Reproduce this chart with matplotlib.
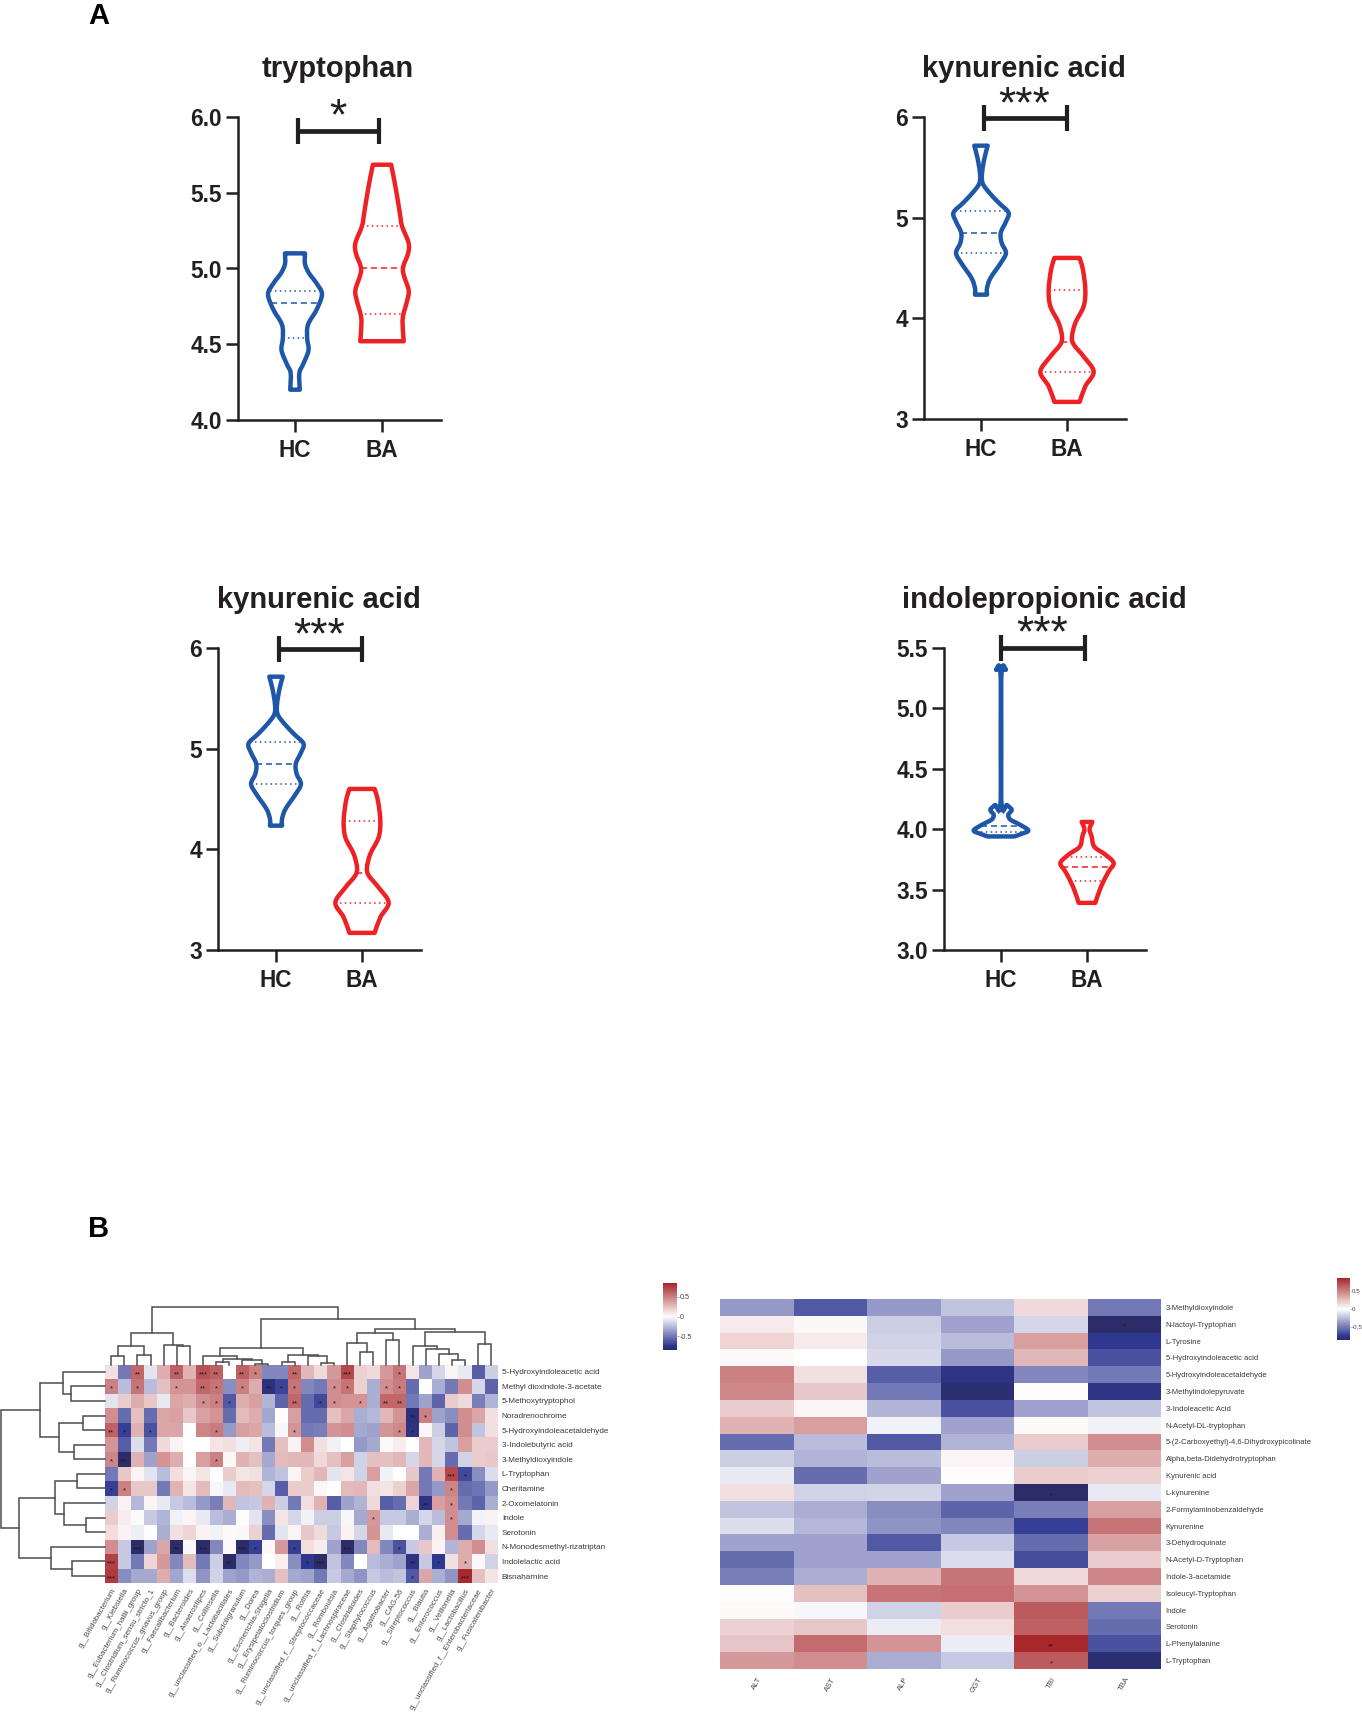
import numpy as np
import matplotlib
matplotlib.use("Agg")
import matplotlib.pyplot as plt
from matplotlib.colors import LinearSegmentedColormap
from matplotlib.patches import PathPatch
from matplotlib.path import Path

plt.rcParams['font.family'] = ['Liberation Sans', 'DejaVu Sans']

W, H = 1362, 1712
INK = '#231f20'
BLUE = '#1f57a8'
RED = '#ee2224'

# ---- violins: y value, half width (in category units), quartiles
try_hc_y = [5.10, 5.03, 4.97, 4.90, 4.83, 4.73, 4.63, 4.54, 4.46, 4.37, 4.31, 4.20]
try_hc_w = [.115, .115, .16, .25, .31, .25, .15, .14, .155, .095, .05, .055]
try_hc_q = [4.85, 4.77, 4.54]
try_ba_y = [5.685, 5.54, 5.365, 5.28, 5.17, 5.10, 4.99, 4.86, 4.79, 4.68, 4.595, 4.52]
try_ba_w = [.105, .155, .205, .23, .305, .30, .24, .305, .29, .24, .24, .25]
try_ba_q = [5.28, 5.00, 4.70]

kyn_hc_y = [5.715, 5.59, 5.44, 5.34, 5.245, 5.145, 5.05, 4.96, 4.85, 4.75, 4.65, 4.55, 4.40, 4.30, 4.235]
kyn_hc_w = [.078, .04, .012, .02, .10, .21, .32, .29, .23, .24, .29, .23, .11, .07, .07]
kyn_hc_q = [5.07, 4.85, 4.65]
kyn_ba_y = [4.60, 4.48, 4.285, 4.12, 3.955, 3.82, 3.74, 3.62, 3.47, 3.325, 3.17]
kyn_ba_w = [.147, .186, .213, .194, .097, .058, .078, .194, .31, .213, .147]
kyn_ba_q = [4.28, 3.76, 3.47]

ipa_hc_y = [5.32, 5.26, 4.24, 4.20, 4.16, 4.12, 4.08, 4.04, 3.99, 3.96, 3.94]
ipa_hc_w = [.058, .004, .004, .07, .124, .085, .108, .213, .318, .233, .155]
ipa_hc_q = [4.13, 4.03, 3.98]
ipa_ba_y = [4.06, 4.0, 3.94, 3.855, 3.79, 3.72, 3.65, 3.525, 3.39]
ipa_ba_w = [.062, .03, .054, .085, .213, .31, .252, .163, .097]
ipa_ba_q = [3.77, 3.69, 3.57]

groups = ['HC', 'BA']

# ---- heatmap 1: metabolites vs genera
genera = ['g__Bifidobacterium', 'g__Klebsiella', 'g__Eubacterium_hallii_group',
          'g__Clostridium_sensu_stricto_1', 'g__Ruminococcus_gnavus_group',
          'g__Faecalibacterium', 'g__Bacteroides', 'g__Anaerostipes', 'g__Collinsella',
          'g__unclassified_o__Lactobacillales', 'g__Subdoligranulum', 'g__Dorea',
          'g__Escherichia-Shigella', 'g__Erysipelatoclostridium',
          'g__Ruminococcus_torques_group', 'g__Rothia',
          'g__unclassified_f__Streptococcaceae', 'g__Romboutsia',
          'g__unclassified_f__Lachnospiraceae', 'g__Clostridioides', 'g__Staphylococcus',
          'g__Agathobacter', 'g__CAG-56', 'g__Streptococcus', 'g__Blautia',
          'g__Enterococcus', 'g__Veillonella', 'g__Lactobacillus',
          'g__unclassified_f__Enterobacteriaceae', 'g__Fusicatenibacter']
metabolites = ['5-Hydroxyindoleacetic acid', 'Methyl dioxindole-3-acetate', '5-Methoxytryptophol',
               'Noradrenochrome', '5-Hydroxyindoleacetaldehyde', '3-Indolebutyric acid',
               '3-Methyldioxyindole', 'L-Tryptophan', 'Cheritamine', '2-Oxomelatonin', 'Indole',
               'Serotonin', 'N-Monodesmethyl-rizatriptan', 'Indolelactic acid', 'Bisnaharnine']
corr_genus = [
    [.12, -.5, .6, -.1, .32, .62, .3, .68, .62, 0, .62, .5, -.45, -.45, .6, .28, .15, .4, .72, .18, .15, .4, .55, .1, -.35, -.15, .04, -.08, -.6, -.18],
    [.5, -.25, .55, -.25, .25, .42, .42, .6, .55, -.42, .5, .33, -.8, -.7, .55, -.45, -.5, .45, .55, .18, -.3, .45, .52, -.55, 0, -.3, -.5, .45, -.15, -.58],
    [-.1, .2, .33, .22, -.08, .35, .32, .45, .5, -.62, .32, .38, -.28, -.58, .6, -.55, -.68, .45, .42, .42, -.3, .6, .6, -.5, -.35, -.58, .2, .15, -.48, -.28],
    [.45, -.55, .25, -.55, .35, .37, .22, .37, .42, -.55, .27, .33, -.33, 0, .38, -.55, -.55, .25, .35, -.3, -.27, .28, .42, -.8, .5, -.35, -.42, .45, .35, .12],
    [.62, -.72, .3, -.65, .35, .35, 0, .48, .52, -.38, .38, .35, -.25, -.03, .42, -.5, -.48, .42, .45, -.32, -.35, .42, .47, -.78, .03, -.18, -.58, .45, -.22, .12],
    [.42, -.6, -.12, -.5, .15, .05, 0, 0, .1, .12, -.06, .1, -.5, .25, .05, .45, .12, -.05, 0, -.38, -.32, .02, .07, 0, .28, -.15, -.22, .38, .2, .2],
    [.48, -.85, .3, -.35, .42, .32, 0, .38, .5, .03, .3, .25, -.32, .27, .28, .28, .15, .25, .38, -.17, .25, .25, .28, -.15, .28, -.15, -.55, -.17, .2, .22],
    [-.5, .22, .04, -.1, -.25, .13, .04, .1, 0, .2, .1, .12, -.28, -.22, .04, .2, .28, -.1, .1, -.17, .38, -.05, 0, .22, -.5, .3, .72, -.68, -.42, -.13],
    [-.72, .5, .22, .22, -.5, .3, .1, .27, -.03, -.08, .27, .25, -.15, -.6, .2, .2, .03, 0, .27, .28, .13, .1, .18, .35, -.5, -.38, .48, -.55, -.52, -.38],
    [-.17, .05, -.27, .04, -.08, -.2, -.25, -.38, -.48, .28, -.22, -.2, .3, -.18, -.5, .13, .3, -.6, -.35, -.28, .15, -.6, -.55, .17, -.78, .38, .45, -.5, -.58, -.3],
    [.2, .07, .02, -.2, -.28, -.05, .04, -.08, -.25, -.3, .01, -.1, -.42, .1, -.15, -.05, -.18, -.18, -.03, -.32, .4, -.2, -.2, -.3, -.15, -.25, .45, -.32, -.04, .05],
    [.13, .05, -.06, 0, -.3, .12, .17, .05, -.05, .02, .03, .18, -.55, -.1, .04, .22, .14, -.2, .05, -.15, .42, -.08, 0, 0, -.3, .06, .45, -.55, -.15, -.08],
    [.45, -.2, -.88, -.35, .35, -.85, -.02, -.88, -.45, .02, -.88, -.72, .03, .4, -.72, .13, .07, -.35, -.88, -.45, .27, -.45, -.65, -.2, .22, .05, -.28, .33, .45, .12],
    [.75, -.2, -.5, .17, .4, -.45, .27, -.5, -.18, -.88, -.45, -.38, 0, .06, -.42, -.75, -.88, -.22, -.45, 0, -.25, -.3, -.35, -.78, -.2, -.75, .12, .33, .03, -.17],
    [.78, -.42, -.32, -.32, .33, -.33, -.12, -.4, -.17, -.35, -.38, -.28, -.3, .25, -.32, -.35, -.5, -.2, -.32, -.4, -.2, -.25, -.22, -.62, .35, -.3, -.4, .85, .25, .1],
]
# row, column, stars
sig_genus = [(0, 2, '**'), (0, 5, '**'), (0, 7, '***'), (0, 8, '**'), (0, 10, '**'), (0, 11, '*'), (0, 14, '**'), (0, 18, '***'), (0, 22, '*'),
             (1, 0, '*'), (1, 2, '*'), (1, 5, '*'), (1, 7, '**'), (1, 8, '*'), (1, 10, '*'), (1, 12, '**'), (1, 13, '*'), (1, 14, '*'), (1, 17, '*'), (1, 18, '*'), (1, 21, '*'), (1, 22, '*'),
             (2, 7, '*'), (2, 8, '*'), (2, 9, '*'), (2, 14, '**'), (2, 16, '*'), (2, 17, '*'), (2, 19, '*'), (2, 21, '**'), (2, 22, '**'),
             (3, 23, '**'), (3, 24, '*'),
             (4, 0, '**'), (4, 1, '*'), (4, 3, '*'), (4, 8, '*'), (4, 14, '*'), (4, 22, '*'), (4, 23, '*'),
             (6, 0, '*'), (6, 1, '**'), (6, 8, '*'),
             (7, 26, '***'), (7, 27, '*'),
             (8, 0, '*'), (8, 1, '*'), (8, 26, '*'),
             (9, 24, '**'), (9, 26, '*'),
             (10, 20, '*'), (10, 26, '*'),
             (12, 2, '***'), (12, 5, '**'), (12, 7, '***'), (12, 10, '***'), (12, 11, '*'), (12, 14, '*'), (12, 18, '***'), (12, 22, '*'),
             (13, 0, '***'), (13, 9, '**'), (13, 15, '*'), (13, 16, '***'), (13, 23, '**'), (13, 25, '*'), (13, 27, '*'),
             (14, 0, '***'), (14, 23, '*'), (14, 27, '***')]

# dendrogram merges: node a, node b, height. New nodes are numbered after the leaves.
col_links = [(0, 1, 27), (2, 3, 30), (30, 31, 55), (5, 6, 55), (4, 33, 60), (32, 34, 96),
             (8, 9, 7), (11, 12, 3), (10, 37, 15), (36, 38, 17), (7, 39, 25),
             (13, 14, 7), (16, 17, 5), (15, 42, 25), (41, 43, 29), (40, 44, 49),
             (19, 20, 37), (18, 46, 65), (21, 22, 73), (47, 48, 94),
             (26, 27, 14), (25, 50, 32), (24, 51, 47), (23, 52, 57), (28, 29, 63), (53, 54, 97),
             (49, 55, 106), (45, 56, 137), (35, 57, 172)]
row_links = [(1, 2, 100), (0, 15, 124), (3, 4, 66), (5, 6, 92), (17, 18, 136), (16, 19, 194),
             (7, 8, 84), (10, 11, 56), (9, 22, 121), (21, 23, 148), (13, 14, 97), (12, 25, 161),
             (24, 26, 258), (20, 27, 312)]

# ---- heatmap 2: metabolites vs liver tests
liver_tests = ['ALT', 'AST', 'ALP', 'GGT', 'TBI', 'TBA']
metabolites2 = ['3-Methyldioxyindole', 'N-lactoyl-Tryptophan', 'L-Tyrosine', '5-Hydroxyindoleacetic acid',
                '5-Hydroxyindoleacetaldehyde', '3-Methylindolepyruvate', '3-Indoleacetic Acid',
                'N-Acetyl-DL-tryptophan', '5-(2-Carboxyethyl)-4,6-Dihydroxypicolinate',
                'Alpha,beta-Didehydrotryptophan', 'Kynurenic acid', 'L-kynurenine',
                '2-Formylaminobenzaldehyde', 'Kynurenine', '3-Dehydroquinate', 'N-Acetyl-D-Tryptophan',
                'Indole-3-acetamide', 'Isoleucyl-Tryptophan', 'Indole', 'Serotonin', 'L-Phenylalanine',
                'L-Tryptophan']
corr_liver = [
    [-.38, -.62, -.38, -.22, .15, -.5],
    [.08, .03, -.18, -.35, -.15, -.9],
    [.17, .08, -.17, -.25, .38, -.75],
    [.02, 0, -.14, -.38, .28, -.65],
    [.5, .12, -.6, -.78, -.45, -.5],
    [.47, .22, -.5, -.82, .01, -.78],
    [.2, .04, -.28, -.65, -.35, -.22],
    [.3, .38, -.05, -.35, .02, -.05],
    [-.55, -.25, -.62, -.28, .2, .45],
    [-.18, -.28, -.25, .04, -.18, .33],
    [-.08, -.55, -.35, .01, .2, .18],
    [.12, -.17, -.16, -.35, -.9, -.08],
    [-.22, -.3, -.42, -.58, -.48, .38],
    [-.12, -.27, -.4, -.45, -.72, .55],
    [-.35, -.35, -.62, -.2, -.55, .37],
    [-.55, -.35, -.35, -.12, -.67, .2],
    [-.48, -.3, .3, .55, .15, .48],
    [.01, .25, .55, .57, .42, .18],
    [.02, -.03, -.17, .2, .65, -.5],
    [.18, .22, -.07, .13, .62, -.55],
    [.23, .58, .42, -.07, .85, -.65],
    [.4, .45, -.3, -.2, .65, -.82],
]
sig_liver = [(1, 5, '*'), (11, 4, '*'), (20, 4, '**'), (21, 4, '*')]

cmap = LinearSegmentedColormap.from_list(
    'nwf', [(0, '#2c2c68'), (.06, '#2f3892'), (.5, '#ffffff'), (1, '#a8282c')])
VMAX = 0.85


def px_axes(fig, x0, x1, y0, y1):
    # axes from pixel box, y measured from the top of the image
    return fig.add_axes([x0 / W, 1 - y1 / H, (x1 - x0) / W, (y1 - y0) / H])


def smooth_side(xs, ys):
    # bezier control points running through the read-off points (catmull-rom)
    pts = np.column_stack([xs, ys])
    verts, codes = [], []
    for i in range(len(pts) - 1):
        before = pts[max(i - 1, 0)]
        after = pts[min(i + 2, len(pts) - 1)]
        verts += [pts[i] + (pts[i + 1] - before) / 6, pts[i + 1] - (after - pts[i]) / 6, pts[i + 1]]
        codes += [Path.CURVE4] * 3
    return verts, codes


def draw_violin(ax, pos, ys, ws, quarts, color):
    ys = np.array(ys)
    ws = np.array(ws)
    left = pos - ws
    right = pos + ws
    v1, c1 = smooth_side(left, ys)
    v2, c2 = smooth_side(right[::-1], ys[::-1])
    verts = [(left[0], ys[0])] + v1 + [(right[-1], ys[-1])] + v2 + [(left[0], ys[0])]
    codes = [Path.MOVETO] + c1 + [Path.LINETO] + c2 + [Path.CLOSEPOLY]
    ax.add_patch(PathPatch(Path(verts, codes), fill=False, edgecolor=color, lw=3.2, joinstyle='round'))
    for i, q in enumerate(quarts):
        half = np.interp(q, ys[::-1], ws[::-1])
        ls = (0, (4, 2.5)) if i == 1 else (0, (1, 2.2))
        ax.plot([pos - half, pos + half], [q, q], color=color, lw=1.1, ls=ls)


def violin_panel(fig, box, hc_px, ba_px, ylim, ticks, ticklabels, title, title_xy, stars,
                 star_xy, bracket_x, bracket_y, hc, ba):
    x0, x1, y0, y1 = box
    ax = px_axes(fig, x0, x1, y0, y1)
    unit = ba_px - hc_px
    ax.set_xlim(1 - (hc_px - x0) / unit, 2 + (x1 - ba_px) / unit)
    ax.set_ylim(*ylim)
    ax.patch.set_alpha(0)
    for s in ['top', 'right']:
        ax.spines[s].set_visible(False)
    for s in ['left', 'bottom']:
        ax.spines[s].set_linewidth(1.8)
        ax.spines[s].set_color(INK)
    ax.set_yticks(ticks)
    ax.set_yticklabels(ticklabels, fontsize=16.3, fontweight='bold', color=INK)
    ax.set_xticks([1, 2])
    ax.set_xticklabels(groups, fontsize=16.3, fontweight='bold', color=INK)
    ax.tick_params(axis='both', length=8.6, width=1.8, color=INK)
    ax.tick_params(axis='y', pad=3)
    ax.tick_params(axis='x', pad=5)
    draw_violin(ax, 1, hc[0], hc[1], hc[2], BLUE)
    draw_violin(ax, 2, ba[0], ba[1], ba[2], RED)
    ax.plot(bracket_x, [bracket_y, bracket_y], color=INK, lw=3.4, marker='|', ms=19,
            mew=3.0, clip_on=False, solid_capstyle='butt')
    fig.text(title_xy[0] / W, 1 - title_xy[1] / H, title, fontsize=21, fontweight='bold',
             color=INK, ha='center', va='center')
    fig.text(star_xy[0] / W, 1 - star_xy[1] / H, stars, fontsize=32, color=INK,
             ha='center', va='center')
    return ax


def draw_links(ax, links, n_leaves, vertical=True):
    # vertical: heights go up and leaves run along x; otherwise heights run along x
    pos = {i: i + 0.5 for i in range(n_leaves)}
    height = {i: 0 for i in range(n_leaves)}
    for k, (a, b, h) in enumerate(links):
        p = [pos[a], pos[a], pos[b], pos[b]]
        q = [height[a], h, h, height[b]]
        if vertical:
            ax.plot(p, q, color='#4d4d4d', lw=1.1, solid_joinstyle='miter', clip_on=False)
        else:
            ax.plot(q, p, color='#4d4d4d', lw=1.1, solid_joinstyle='miter', clip_on=False)
        pos[n_leaves + k] = (pos[a] + pos[b]) / 2
        height[n_leaves + k] = h


def heatmap(fig, box, values, rows, cols, sig, row_fs, col_fs, star_fs, col_pad):
    ax = px_axes(fig, *box)
    arr = np.array(values)
    ax.pcolormesh(arr, cmap=cmap, vmin=-VMAX, vmax=VMAX, edgecolors='none')
    ax.set_xlim(0, arr.shape[1])
    ax.set_ylim(arr.shape[0], 0)
    for s in ax.spines.values():
        s.set_visible(False)
    ax.yaxis.tick_right()
    ax.set_yticks(np.arange(arr.shape[0]) + .5)
    ax.set_yticklabels(rows, fontsize=row_fs, color='#3a3a3a')
    ax.set_xticks(np.arange(arr.shape[1]) + .5)
    ax.set_xticklabels(cols, fontsize=col_fs, color='#4a4a4a', rotation=60, ha='right',
                       va='top', rotation_mode='anchor')
    ax.tick_params(length=0, pad=3)
    ax.tick_params(axis='x', pad=col_pad)
    for r, c, t in sig:
        ax.text(c + .5, r + .68, t, fontsize=star_fs, color='#1a1a1a', ha='center', va='center')
    return ax


def colorbar(fig, box, label_fs, tick_len, pad):
    ax = px_axes(fig, *box)
    levels = np.linspace(-VMAX, VMAX, 101).reshape(-1, 1)
    ax.pcolormesh([0, 1], np.linspace(-VMAX, VMAX, 102), levels, cmap=cmap, vmin=-VMAX, vmax=VMAX)
    ax.set_xticks([])
    ax.yaxis.tick_right()
    ax.set_yticks([-.5, 0, .5])
    ax.set_yticklabels(['-0.5', '0', '0.5'], fontsize=label_fs, color='#444444')
    ax.tick_params(length=tick_len, width=.4, pad=pad, color='#666666')
    for s in ax.spines.values():
        s.set_visible(False)


fig = plt.figure(figsize=(W / 100, H / 100), dpi=100)

fig.text(99 / W, 1 - 16 / H, 'A', fontsize=21, fontweight='bold', color='black', ha='center', va='center')
fig.text(99 / W, 1 - 1229 / H, 'B', fontsize=21, fontweight='bold', color='black', ha='center', va='center')

violin_panel(fig, (238, 441, 117, 420), 295, 382, (4, 6), [4, 4.5, 5, 5.5, 6],
             ['4.0', '4.5', '5.0', '5.5', '6.0'], 'tryptophan', (338, 69), '*', (338, 118),
             [1.03, 1.97], 5.91, (try_hc_y, try_hc_w, try_hc_q), (try_ba_y, try_ba_w, try_ba_q))
violin_panel(fig, (924, 1126, 117, 419), 981, 1067, (3, 6), [3, 4, 5, 6],
             ['3', '4', '5', '6'], 'kynurenic acid', (1024, 69), '***', (1024, 106),
             [1.03, 2.0], 5.99, (kyn_hc_y, kyn_hc_w, kyn_hc_q), (kyn_ba_y, kyn_ba_w, kyn_ba_q))
violin_panel(fig, (218, 421, 648, 950), 276, 362, (3, 6), [3, 4, 5, 6],
             ['3', '4', '5', '6'], 'kynurenic acid', (319, 600), '***', (319, 637),
             [1.03, 2.0], 5.99, (kyn_hc_y, kyn_hc_w, kyn_hc_q), (kyn_ba_y, kyn_ba_w, kyn_ba_q))
violin_panel(fig, (944, 1146, 648, 950), 1001, 1087, (3, 5.5), [3, 3.5, 4, 4.5, 5, 5.5],
             ['3.0', '3.5', '4.0', '4.5', '5.0', '5.5'], 'indolepropionic acid', (1044, 600), '***', (1042, 635),
             [1.0, 1.98], 5.5, (ipa_hc_y, ipa_hc_w, ipa_hc_q), (ipa_ba_y, ipa_ba_w, ipa_ba_q))

heatmap(fig, (104.7, 497.7, 1364.5, 1583.3), corr_genus, metabolites, genera, sig_genus, 5.9, 5.7, 5.5, 3)
heatmap(fig, (720.5, 1161.5, 1299, 1669), corr_liver, metabolites2, liver_tests, sig_liver, 5.5, 5.6, 5.5, 5)

top_dendro = px_axes(fig, 104.7, 497.7, 1295, 1364.5)
top_dendro.set_xlim(0, 30)
top_dendro.set_ylim(0, 208.5)
top_dendro.axis('off')
draw_links(top_dendro, col_links, 30, vertical=True)

left_dendro = px_axes(fig, 0, 104.7, 1364.5, 1583.3)
left_dendro.set_xlim(314, 0)
left_dendro.set_ylim(15, 0)
left_dendro.axis('off')
draw_links(left_dendro, row_links, 15, vertical=False)

colorbar(fig, (663, 676.5, 1283, 1350), 5.2, 1.5, 1)
colorbar(fig, (1337, 1350, 1278, 1340), 4.5, 1, 0.3)

fig.savefig('out.png', dpi=100)
